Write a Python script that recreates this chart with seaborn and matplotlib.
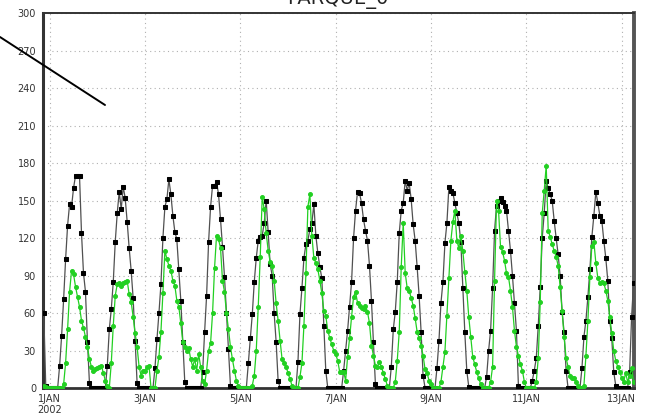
import numpy as np
import pandas as pd
import matplotlib
matplotlib.use("Agg")
import matplotlib.pyplot as plt
from matplotlib.lines import Line2D
import seaborn as sns

# ---------------- data (hourly, starting 31DEC 21:00) ----------------
title = "PARQUE_0"
tick_labels = ["1JAN\n2002", "3JAN", "5JAN", "7JAN", "9JAN", "11JAN", "13JAN"]
y_ticks = [0, 30, 60, 90, 120, 150, 180, 210, 240, 270, 300]

black_prefix = [60, 2, 0]
black_d01 = [0, 0, 0, 0, 0, 18, 42, 71, 103, 130, 147, 145, 160, 170, 170, 170, 124, 92, 77, 37, 4, 0, 0, 0]
black_d02 = [0, 0, 0, 0, 0, 18, 47, 63, 85, 117, 140, 157, 143, 161, 152, 133, 112, 94, 72, 38, 4, 0, 0, 0]
black_d03 = [0, 0, 0, 0, 0, 16, 39, 60, 83, 120, 145, 151, 167, 155, 138, 125, 119, 95, 70, 37, 5, 0, 0, 0]
black_d04 = [0, 0, 0, 0, 0, 13, 45, 74, 117, 145, 162, 162, 165, 155, 135, 113, 89, 60, 31, 2, 0, 0, 0, 0]
black_d05 = [0, 0, 0, 0, 20, 40, 59, 85, 104, 118, 121, 122, 132, 150, 125, 99, 90, 60, 37, 6, 0, 0, 0, 0]
black_d06 = [0, 0, 0, 0, 0, 21, 59, 80, 104, 115, 118, 127, 132, 147, 122, 108, 97, 88, 50, 14, 0, 0, 0, 0]
black_d07 = [0, 0, 0, 0, 14, 30, 46, 65, 85, 120, 142, 157, 156, 148, 135, 126, 118, 98, 70, 37, 3, 0, 0, 0]
black_d08 = [0, 0, 0, 0, 17, 47, 61, 85, 124, 142, 148, 166, 158, 164, 151, 131, 118, 97, 74, 45, 10, 0, 0, 0]
black_d09 = [0, 0, 0, 16, 38, 68, 85, 116, 132, 161, 158, 156, 148, 140, 132, 117, 80, 45, 14, 1, 0, 0, 0, 0]
black_d10 = [0, 0, 0, 0, 9, 30, 46, 80, 126, 146, 150, 152, 149, 146, 142, 126, 110, 90, 68, 46, 2, 0, 0, 0]
black_d11 = [0, 0, 0, 6, 14, 24, 50, 81, 120, 140, 166, 160, 155, 150, 134, 120, 107, 90, 61, 45, 14, 0, 0, 0]
black_d12 = [0, 0, 0, 0, 16, 41, 54, 73, 95, 121, 138, 157, 148, 138, 134, 118, 104, 86, 54, 40, 13, 2, 0, 0]
black_d13 = [0, 0, 0, 0, 13, 57, 84]

green_prefix = [2, 1, 0]
green_d01 = [0, 0, 0, 0, 0, 0, 0, 3, 20, 47, 77, 94, 91, 81, 73, 65, 54, 48, 41, 33, 23, 17, 14, 15]
green_d02 = [16, 17, 18, 12, 6, 2, 0, 20, 50, 74, 83, 84, 82, 84, 85, 86, 75, 69, 57, 44, 33, 17, 10, 14]
green_d03 = [14, 17, 18, 0, 0, 0, 14, 25, 45, 76, 110, 103, 98, 94, 86, 82, 70, 65, 52, 37, 33, 30, 32, 23]
green_d04 = [17, 23, 14, 27, 17, 6, 3, 14, 30, 36, 60, 96, 122, 119, 112, 86, 77, 60, 47, 33, 23, 14, 6, 2]
green_d05 = [0, 0, 0, 0, 0, 0, 2, 10, 30, 65, 105, 153, 143, 124, 110, 101, 98, 86, 68, 54, 38, 23, 20, 17]
green_d06 = [12, 7, 2, 0, 0, 0, 9, 20, 50, 92, 145, 155, 122, 104, 100, 95, 86, 76, 62, 58, 46, 40, 35, 30]
green_d07 = [27, 22, 13, 13, 13, 6, 25, 40, 57, 73, 77, 68, 66, 64, 63, 66, 61, 52, 34, 26, 18, 17, 21, 17]
green_d08 = [12, 7, 2, 0, 0, 0, 5, 22, 45, 97, 132, 92, 80, 78, 72, 66, 56, 45, 40, 34, 26, 15, 12, 6]
green_d09 = [3, 0, 0, 0, 0, 5, 17, 29, 58, 88, 118, 133, 142, 118, 112, 122, 110, 93, 78, 57, 41, 25, 19, 13]
green_d10 = [8, 3, 0, 0, 0, 0, 5, 17, 86, 150, 142, 113, 109, 102, 92, 89, 78, 65, 46, 33, 26, 19, 14, 5]
green_d11 = [0, 0, 0, 0, 0, 5, 24, 69, 140, 158, 178, 126, 121, 115, 110, 105, 98, 81, 62, 41, 24, 17, 10, 8]
green_d12 = [8, 5, 2, 0, 0, 2, 26, 54, 89, 114, 117, 100, 88, 84, 85, 84, 78, 70, 57, 44, 30, 22, 17, 13]
green_d13 = [8, 5, 12, 5, 10, 16, 5]

start_hour = -3  # 31DEC 21:00 relative to 1JAN 00:00

black = (black_prefix + black_d01 + black_d02 + black_d03 + black_d04 + black_d05 + black_d06 +
         black_d07 + black_d08 + black_d09 + black_d10 + black_d11 + black_d12 + black_d13)
green = (green_prefix + green_d01 + green_d02 + green_d03 + green_d04 + green_d05 + green_d06 +
         green_d07 + green_d08 + green_d09 + green_d10 + green_d11 + green_d12 + green_d13)

hours = np.arange(start_hour, start_hour + len(black))
df_black = pd.DataFrame({"hour": hours, "value": black})
df_green = pd.DataFrame({"hour": hours, "value": green})

# ---------------- figure ----------------
sns.set_style("white")
plt.rcParams["font.family"] = ["DejaVu Sans"]

fig = plt.figure(figsize=(6.54, 4.16), dpi=100)
ax = fig.add_axes([0.0657, 0.0673, 0.9037, 0.9014])

sns.lineplot(data=df_black, x="hour", y="value", ax=ax, color="#505050", linewidth=0.9,
             marker="s", markersize=3.0, markerfacecolor="black", markeredgecolor="black",
             zorder=3)
sns.lineplot(data=df_green, x="hour", y="value", ax=ax, color="#22d022", linewidth=0.9,
             marker="o", markersize=2.8, markerfacecolor="#22d022", markeredgecolor="#22d022",
             zorder=4)

ax.set_xlim(-3.4, 294.2)
ax.set_ylim(0, 300)
ax.set_xticks(np.arange(len(tick_labels)) * 48)
ax.set_xticklabels(tick_labels)
ax.set_yticks(y_ticks)
ax.set_xlabel("")
ax.set_ylabel("")
ax.grid(True, linestyle=(0, (1, 3)), color="#b0b0b0", linewidth=0.8)
ax.tick_params(axis="both", labelsize=7, colors="#333333", length=3, width=0.8, pad=2)
ax.tick_params(axis="x", length=2)

for side, lw, col in [("left", 2.2, "#333333"), ("bottom", 2.0, "#333333"),
                      ("top", 1.4, "#333333"), ("right", 2.8, "#555555")]:
    ax.spines[side].set_visible(True)
    ax.spines[side].set_linewidth(lw)
    ax.spines[side].set_color(col)

fig.text(0.517, 0.990, title, ha="center", va="baseline", fontsize=14, color="#222222")
fig.add_artist(Line2D([0.0, 105 / 654], [1 - 37 / 416, 1 - 105 / 416],
                      transform=fig.transFigure, color="black", linewidth=1.4))

fig.savefig("out.png", dpi=100)
